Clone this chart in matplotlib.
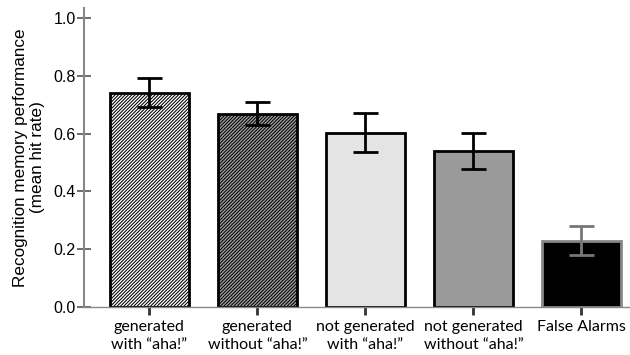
import matplotlib
matplotlib.use("Agg")
import matplotlib.pyplot as plt
import numpy as np

categories = ["generated\nwith \u201caha!\u201d", "generated\nwithout \u201caha!\u201d",
              "not generated\nwith \u201caha!\u201d", "not generated\nwithout \u201caha!\u201d",
              "False Alarms"]
means = [0.741, 0.669, 0.604, 0.540, 0.229]
errors = [0.050, 0.040, 0.068, 0.064, 0.050]
yticks = [0.0, 0.2, 0.4, 0.6, 0.8, 1.0]

faces = ["white", "#a0a0a0", "#e4e4e4", "#9a9a9a", "black"]
edges = ["black", "black", "black", "black", "#888888"]
hatches = ["//////////", "//////////", None, None, None]
ecolors = ["black", "black", "black", "black", "#777777"]

plt.rcParams['hatch.linewidth'] = 0.75
fig = plt.figure(figsize=(6.3, 3.55), dpi=100)
ax = fig.add_axes([0.1333, 0.1352, 0.8667, 0.8423])

x = np.arange(len(categories))
for i in range(len(categories)):
    ax.bar(x[i], means[i], width=0.73, color=faces[i], edgecolor=edges[i],
           linewidth=2, hatch=hatches[i], zorder=2)
    ax.errorbar(x[i], means[i], yerr=errors[i], fmt='none', ecolor=ecolors[i],
                elinewidth=2, capsize=9, capthick=2, zorder=3)

ax.set_xlim(-0.606, 4.45)
ax.set_ylim(0, 1.035)
ax.set_yticks(yticks)
ax.set_yticklabels([f"{v:.1f}" for v in yticks], fontsize=11.5, family="Liberation Sans")
ax.set_xticks(x)
ax.set_xticklabels(categories, fontsize=11.5, family="Lato")
for lbl in ax.get_xticklabels():
    lbl.set_linespacing(1.45)

for s in ["top", "right"]:
    ax.spines[s].set_visible(False)
ax.spines["left"].set_color("#888888")
ax.spines["left"].set_linewidth(1.5)
ax.spines["bottom"].set_color("#888888")
ax.spines["bottom"].set_linewidth(1.0)
ax.tick_params(axis='y', direction='inout', length=10, width=1.2, color="#555555", pad=1)
ax.tick_params(axis='x', direction='out', length=6, width=2, color="#333333", pad=3)

ax.set_ylabel("Recognition memory performance\n(mean hit rate)", fontsize=12.3,
              family="Liberation Sans", labelpad=6)

fig.savefig("out.png", dpi=100)
